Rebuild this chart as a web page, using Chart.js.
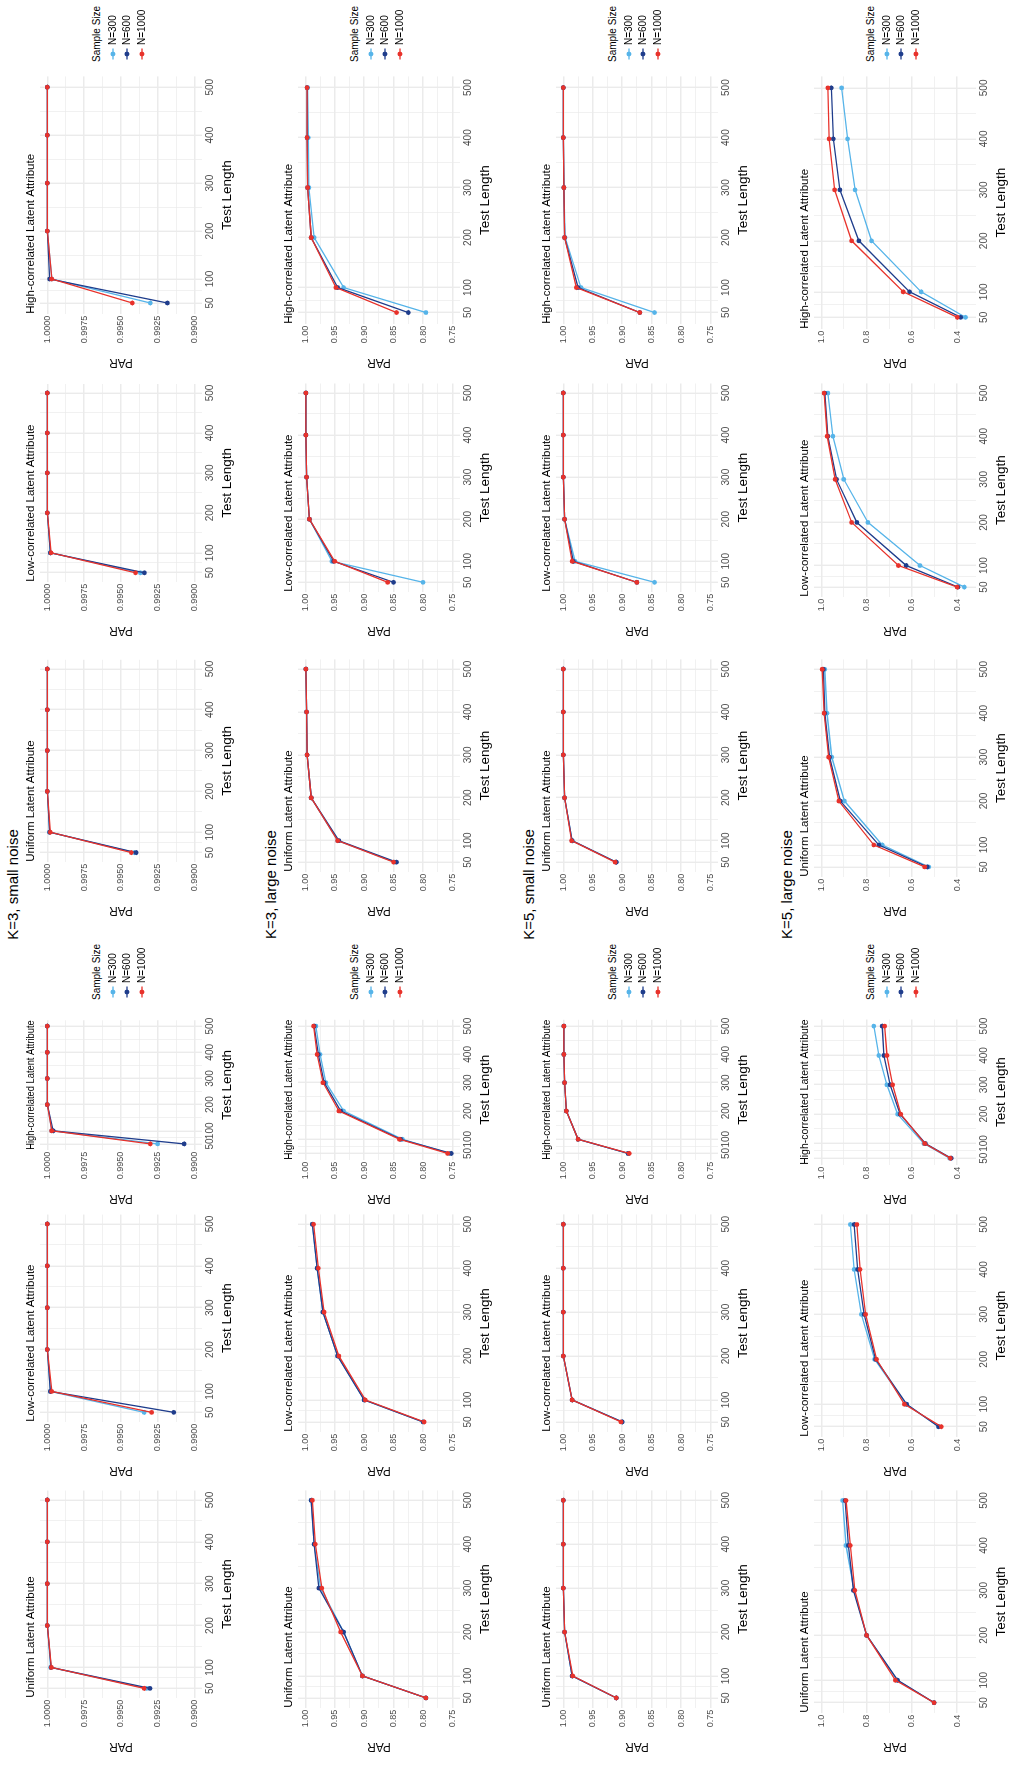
<!DOCTYPE html>
<html>
<head>
<meta charset="utf-8">
<script src="https://cdn.jsdelivr.net/npm/chart.js@4.4.1/dist/chart.umd.min.js"></script>
<style>
html,body{margin:0;padding:0;background:#fff;}
body{width:1013px;height:1769px;overflow:hidden;position:relative;font-family:"Liberation Sans",Arial,sans-serif;}
#fig{position:absolute;left:0;top:0;width:1769px;height:1013px;transform-origin:0 0;transform:translateY(1769px) rotate(-90deg);background:#fff;}
.rowtitle{position:absolute;left:0;width:1769px;text-align:center;font-size:15px;line-height:18px;color:#000;}
canvas{position:absolute;}
.legend{position:absolute;font-size:10px;line-height:12px;color:#000;white-space:nowrap;}
.legend .item{height:14.25px;display:flex;align-items:center;}
.legend svg{margin-left:2px;margin-right:3px;}
</style>
</head>
<body>
<div id="fig"></div>
<script>
// ---------------- data ----------------
const testLengths = [50, 100, 200, 300, 400, 500];
const xTickLabels = ["50", "100", "200", "300", "400", "500"];
const sampleSizes = ["N=300", "N=600", "N=1000"];
const attributeTitles = ["Uniform Latent Attribute", "Low-correlated Latent Attribute", "High-correlated Latent Attribute"];
const rowTitles = ["K=3, small noise", "K=3, large noise", "K=5, small noise", "K=5, large noise"];

// y tick values / labels per row
const yTicksRow1 = [0.99, 0.9925, 0.995, 0.9975, 1.0];
const yLabelsRow1 = ["0.9900", "0.9925", "0.9950", "0.9975", "1.0000"];
const yTicksRow23 = [0.75, 0.8, 0.85, 0.9, 0.95, 1.0];
const yLabelsRow23 = ["0.75", "0.80", "0.85", "0.90", "0.95", "1.00"];
const yTicksRow4 = [0.4, 0.6, 0.8, 1.0];
const yLabelsRow4 = ["0.4", "0.6", "0.8", "1.0"];

// series: rows = [N=300, N=600, N=1000], values at test lengths 50..500
// K=3, small noise
const k3s_A_uniform = [[0.99324, 0.99978, 1, 1, 1, 1], [0.99302, 0.99975, 1, 1, 1, 1], [0.99342, 0.99972, 1, 1, 1, 1]];
const k3s_A_low     = [[0.99342, 0.99980, 1, 1, 1, 1], [0.99140, 0.99980, 1, 1, 1, 1], [0.99291, 0.99970, 1, 1, 1, 1]];
const k3s_A_high    = [[0.99250, 0.99970, 1, 1, 1, 1], [0.99070, 0.99960, 1, 1, 1, 1], [0.99300, 0.99970, 1, 1, 1, 1]];
const k3s_B_uniform = [[0.99410, 0.99985, 1, 1, 1, 1], [0.99396, 0.99985, 1, 1, 1, 1], [0.99429, 0.99980, 1, 1, 1, 1]];
const k3s_B_low     = [[0.99367, 0.99980, 1, 1, 1, 1], [0.99340, 0.99980, 1, 1, 1, 1], [0.99400, 0.99975, 1, 1, 1, 1]];
const k3s_B_high    = [[0.99300, 0.99970, 1, 1, 1, 1], [0.99184, 0.99985, 1, 1, 1, 1], [0.99422, 0.99970, 1, 1, 1, 1]];
// K=3, large noise
const k3l_A_uniform = [[0.795, 0.903, 0.935, 0.974, 0.985, 0.990], [0.795, 0.903, 0.935, 0.977, 0.985, 0.990], [0.795, 0.903, 0.940, 0.972, 0.983, 0.988]];
const k3l_A_low     = [[0.800, 0.900, 0.945, 0.970, 0.980, 0.988], [0.800, 0.900, 0.945, 0.970, 0.980, 0.988], [0.798, 0.898, 0.943, 0.968, 0.978, 0.986]];
const k3l_A_high    = [[0.755, 0.835, 0.935, 0.965, 0.975, 0.982], [0.752, 0.838, 0.940, 0.968, 0.978, 0.985], [0.758, 0.840, 0.943, 0.970, 0.980, 0.986]];
const k3l_B_uniform = [[0.848, 0.945, 0.990, 0.997, 0.998, 0.999], [0.845, 0.943, 0.990, 0.997, 0.998, 0.999], [0.850, 0.945, 0.990, 0.997, 0.998, 0.999]];
const k3l_B_low     = [[0.800, 0.955, 0.993, 0.998, 0.999, 0.999], [0.850, 0.952, 0.993, 0.998, 0.999, 0.999], [0.860, 0.950, 0.993, 0.998, 0.999, 0.999]];
const k3l_B_high    = [[0.795, 0.935, 0.985, 0.994, 0.995, 0.996], [0.825, 0.945, 0.990, 0.996, 0.997, 0.997], [0.845, 0.948, 0.990, 0.996, 0.997, 0.997]];
// K=5, small noise
const k5s_A_uniform = [[0.910, 0.985, 0.998, 1, 1, 1], [0.910, 0.985, 0.998, 1, 1, 1], [0.910, 0.984, 0.998, 1, 1, 1]];
const k5s_A_low     = [[0.900, 0.985, 1, 1, 1, 1], [0.900, 0.985, 1, 1, 1, 1], [0.902, 0.985, 1, 1, 1, 1]];
const k5s_A_high    = [[0.890, 0.975, 0.995, 0.998, 0.999, 0.999], [0.890, 0.975, 0.995, 0.998, 0.999, 0.999], [0.888, 0.975, 0.995, 0.998, 0.999, 0.999]];
const k5s_B_uniform = [[0.910, 0.985, 0.998, 1, 1, 1], [0.910, 0.985, 0.998, 1, 1, 1], [0.912, 0.986, 0.998, 1, 1, 1]];
const k5s_B_low     = [[0.845, 0.980, 0.998, 1, 1, 1], [0.875, 0.983, 0.998, 1, 1, 1], [0.875, 0.985, 0.998, 1, 1, 1]];
const k5s_B_high    = [[0.845, 0.970, 0.997, 0.999, 1, 1], [0.870, 0.975, 0.998, 0.999, 1, 1], [0.870, 0.978, 0.998, 0.999, 1, 1]];
// K=5, large noise
const k5l_A_uniform = [[0.502, 0.665, 0.800, 0.855, 0.891, 0.906], [0.502, 0.663, 0.800, 0.858, 0.881, 0.895], [0.502, 0.673, 0.800, 0.852, 0.872, 0.891]];
const k5l_A_low     = [[0.482, 0.625, 0.765, 0.823, 0.855, 0.872], [0.482, 0.623, 0.760, 0.811, 0.840, 0.855], [0.470, 0.633, 0.756, 0.804, 0.829, 0.843]];
const k5l_A_high    = [[0.433, 0.547, 0.663, 0.710, 0.746, 0.768], [0.426, 0.540, 0.652, 0.696, 0.724, 0.731], [0.430, 0.543, 0.649, 0.685, 0.710, 0.720]];
const k5l_B_uniform = [[0.525, 0.731, 0.898, 0.954, 0.975, 0.985], [0.532, 0.746, 0.916, 0.964, 0.985, 0.991], [0.543, 0.768, 0.923, 0.968, 0.988, 0.996]];
const k5l_B_low     = [[0.368, 0.564, 0.794, 0.901, 0.949, 0.971], [0.396, 0.625, 0.843, 0.933, 0.971, 0.985], [0.400, 0.659, 0.866, 0.939, 0.974, 0.988]];
const k5l_B_high    = [[0.363, 0.559, 0.778, 0.851, 0.884, 0.910], [0.384, 0.610, 0.834, 0.918, 0.947, 0.956], [0.399, 0.638, 0.866, 0.941, 0.966, 0.971]];

// ---------------- styling / layout ----------------
const FONT = '"Liberation Sans", Arial, sans-serif';
const seriesColors = ["#56B4E9", "#1F3D8C", "#E8322B"];
const GRID = "#EBEBEB";
const ROW_H = 258;
const cellsA = [{x0: 0, w: 281}, {x0: 276, w: 281}, {x0: 548, w: 207}];
const cellsB = [{x0: 836, w: 276}, {x0: 1116, w: 272}, {x0: 1384, w: 311}];
const legendX = [769, 1707];

const rows = [
  {title: rowTitles[0], ticks: yTicksRow1, labels: yLabelsRow1, lim: [0.99, 1.0], panels: [k3s_A_uniform, k3s_A_low, k3s_A_high, k3s_B_uniform, k3s_B_low, k3s_B_high]},
  {title: rowTitles[1], ticks: yTicksRow23, labels: yLabelsRow23, lim: [0.75, 1.0], panels: [k3l_A_uniform, k3l_A_low, k3l_A_high, k3l_B_uniform, k3l_B_low, k3l_B_high]},
  {title: rowTitles[2], ticks: yTicksRow23, labels: yLabelsRow23, lim: [0.75, 1.0], panels: [k5s_A_uniform, k5s_A_low, k5s_A_high, k5s_B_uniform, k5s_B_low, k5s_B_high]},
  {title: rowTitles[3], ticks: yTicksRow4, labels: yLabelsRow4, lim: [0.35, 1.0], panels: [k5l_A_uniform, k5l_A_low, k5l_A_high, k5l_B_uniform, k5l_B_low, k5l_B_high]}
];

function midpoints(arr) {
  const out = [];
  for (let i = 0; i < arr.length - 1; i++) out.push((arr[i] + arr[i + 1]) / 2);
  return out;
}
function isMajor(list, v) { return list.some(t => Math.abs(t - v) < 1e-9); }

const fig = document.getElementById('fig');

function makePanel(rowIdx, cell, title, series, row) {
  const cv = document.createElement('canvas');
  cv.width = cell.w; cv.height = 215;
  cv.style.left = cell.x0 + 'px';
  cv.style.top = (rowIdx * ROW_H + 19.5) + 'px';
  cv.style.width = cell.w + 'px'; cv.style.height = '215px';
  fig.appendChild(cv);
  const span = row.lim[1] - row.lim[0];
  const yMin = row.lim[0] - 0.05 * span, yMax = row.lim[1] + 0.05 * span;
  const xMinor = midpoints(testLengths);
  const yMinor = midpoints(row.ticks);
  const xAll = testLengths.concat(xMinor).sort((a, b) => a - b);
  const yAll = row.ticks.concat(yMinor).sort((a, b) => a - b);
  new Chart(cv, {
    type: 'line',
    data: {
      datasets: series.map((vals, i) => ({
        label: sampleSizes[i],
        data: testLengths.map((t, j) => ({x: t, y: vals[j]})),
        borderColor: seriesColors[i],
        backgroundColor: seriesColors[i],
        borderWidth: 1.3,
        pointRadius: 2.4,
        pointBorderWidth: 0,
        pointHoverRadius: 0,
        tension: 0,
        order: 3 - i
      }))
    },
    options: {
      responsive: false, animation: false, events: [], devicePixelRatio: 1,
      layout: {padding: {left: 15, right: 1, top: 0, bottom: 0}},
      plugins: {
        legend: {display: false}, tooltip: {enabled: false},
        title: {display: true, text: title, align: 'start', fullSize: false, color: '#000',
          font: {family: FONT, size: 11.5, weight: 'normal'}, padding: {top: 3.6, bottom: 2.6}}
      },
      scales: {
        x: {
          type: 'linear', min: 27.5, max: 522.5,
          afterBuildTicks: s => { s.ticks = xAll.map(v => ({value: v})); },
          ticks: {autoSkip: false, maxRotation: 0, minRotation: 0, padding: 3.5, color: '#4D4D4D',
            font: {family: FONT, size: 10, lineHeight: 1},
            callback: v => { const k = testLengths.findIndex(t => Math.abs(t - v) < 1e-9); return k >= 0 ? xTickLabels[k] : ''; }},
          grid: {drawTicks: false, color: GRID, lineWidth: c => isMajor(testLengths, c.tick ? c.tick.value : NaN) ? 1.4 : 0.7},
          border: {display: false},
          title: {display: true, text: 'Test Length', color: '#000', font: {family: FONT, size: 13.5}, padding: {top: 0, bottom: 0}}
        },
        y: {
          type: 'linear', min: yMin, max: yMax,
          afterBuildTicks: s => { s.ticks = yAll.map(v => ({value: v})); },
          ticks: {autoSkip: false, padding: 2, color: '#4D4D4D', font: {family: FONT, size: 9},
            callback: v => { const k = row.ticks.findIndex(t => Math.abs(t - v) < 1e-9); return k >= 0 ? row.labels[k] : ''; }},
          grid: {drawTicks: false, color: GRID, lineWidth: c => isMajor(row.ticks, c.tick ? c.tick.value : NaN) ? 1.4 : 0.7},
          border: {display: false},
          title: {display: true, text: 'PAR', color: '#000', font: {family: FONT, size: 12}, padding: {top: 0, bottom: 10.3}}
        }
      }
    }
  });
}

function makeLegend(rowIdx, x) {
  const d = document.createElement('div');
  d.className = 'legend';
  d.style.left = x + 'px';
  d.style.top = (rowIdx * ROW_H + 91) + 'px';
  let html = '<div style="height:15px">Sample Size</div>';
  sampleSizes.forEach((s, i) => {
    html += '<div class="item"><svg width="12" height="10"><line x1="0.5" y1="5" x2="11.5" y2="5" stroke="' + seriesColors[i] +
      '" stroke-width="1.3"/><circle cx="6" cy="5" r="2.4" fill="' + seriesColors[i] + '"/></svg>' + s + '</div>';
  });
  d.innerHTML = html;
  fig.appendChild(d);
}

rows.forEach((row, r) => {
  const t = document.createElement('div');
  t.className = 'rowtitle';
  t.style.top = (r * ROW_H + 4) + 'px';
  t.textContent = row.title;
  fig.appendChild(t);
  const cells = cellsA.concat(cellsB);
  cells.forEach((cell, p) => makePanel(r, cell, attributeTitles[p % 3], row.panels[p], row));
  legendX.forEach(x => makeLegend(r, x));
});
</script>
</body>
</html>
